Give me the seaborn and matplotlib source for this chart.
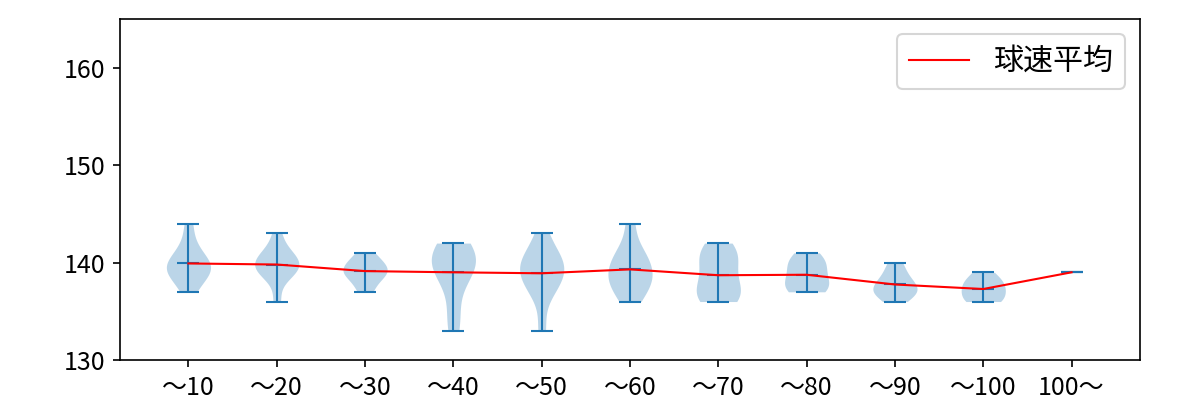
import numpy as np
import pandas as pd
import matplotlib
matplotlib.use("Agg")
import matplotlib.pyplot as plt
import seaborn as sns

plt.rcParams['font.family'] = ['Noto Sans CJK JP', 'DejaVu Sans']
plt.rcParams['font.size'] = 12

categories = ["〜10", "〜20", "〜30", "〜40", "〜50", "〜60", "〜70", "〜80", "〜90", "〜100", "100〜"]

speeds_10 = [137, 138, 139, 139, 139, 140, 140, 140, 141, 142, 144]
speeds_20 = [136, 139, 139, 139, 140, 140, 140, 141, 141, 143]
speeds_30 = [137, 138, 139, 139, 139, 140, 140, 141]
speeds_40 = [133, 135, 138, 139, 140, 140, 140, 141, 142, 142]
speeds_50 = [133, 137, 138, 138, 139, 140, 140, 140, 141, 143]
speeds_60 = [136, 137, 138, 138, 139, 139, 140, 141, 141, 144]
speeds_70 = [136, 136, 137, 137, 138, 139, 140, 141, 141, 142]
speeds_80 = [137, 137, 138, 138, 139, 140, 140, 141]
speeds_90 = [136, 137, 137, 137, 138, 138, 139, 140]
speeds_100 = [136, 136, 137, 137, 138, 138, 139]
speeds_over = [139]

all_speeds = [speeds_10, speeds_20, speeds_30, speeds_40, speeds_50, speeds_60,
              speeds_70, speeds_80, speeds_90, speeds_100, speeds_over]

legend_label = "球速平均"

rows = []
for cat, vals in zip(categories, all_speeds):
    for v in vals:
        rows.append({"cat": cat, "speed": v})
df = pd.DataFrame(rows)

fig, ax = plt.subplots(figsize=(8, 8 / 3), dpi=150)
fig.subplots_adjust(left=0.1, right=0.95, bottom=0.1, top=0.9525)

sns.violinplot(data=df, x="cat", y="speed", order=categories, ax=ax,
               density_norm="width", width=0.5, cut=0, inner=None,
               bw_method="scott", saturation=1, color="#1f77b4",
               alpha=0.3, linewidth=0)

pos = np.arange(len(categories))
mins = np.array([min(v) for v in all_speeds])
maxs = np.array([max(v) for v in all_speeds])
means = np.array([np.mean(v) for v in all_speeds])

c0 = "#1f77b4"
ax.vlines(pos, mins, maxs, colors=c0, lw=1.0)
for arr in (mins, maxs, means):
    ax.hlines(arr, pos - 0.125, pos + 0.125, colors=c0, lw=1.0)

sns.lineplot(x=pos, y=means, color="red", lw=1.0, label=legend_label, ax=ax)

ax.set_xlim(-0.775, len(categories) - 1 + 0.775)
ax.set_ylim(130, 165)
ax.set_yticks([130, 140, 150, 160])
ax.set_xlabel("")
ax.set_ylabel("")
for s in ax.spines.values():
    s.set_visible(True)
ax.legend(loc="upper right", fontsize="large")

fig.savefig("out.png", dpi=150)
